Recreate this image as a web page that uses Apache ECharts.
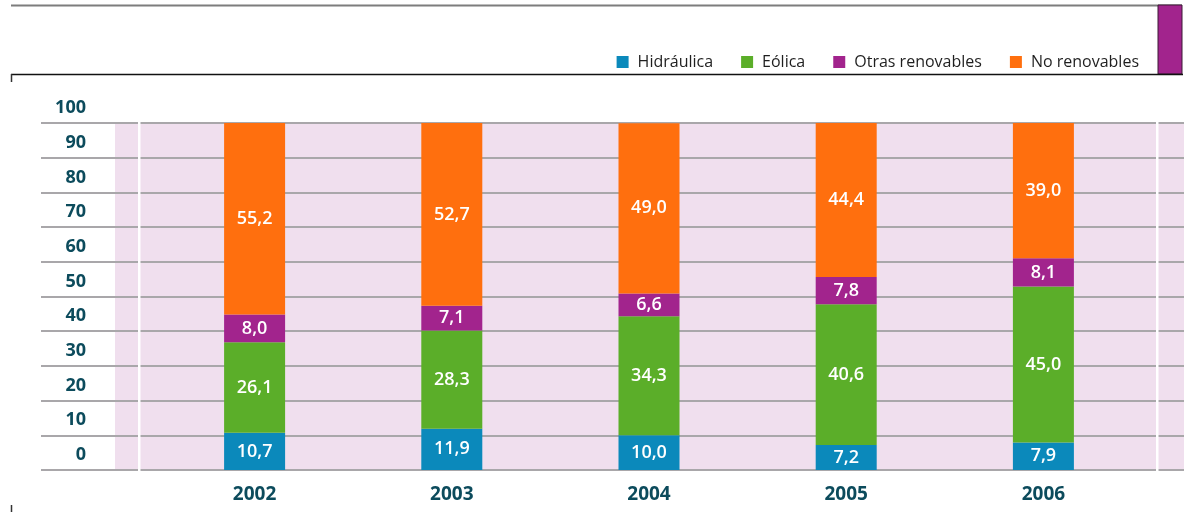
<!DOCTYPE html>
<html>
<head>
<meta charset="utf-8">
<script src="https://cdn.jsdelivr.net/npm/echarts@6/dist/echarts.min.js"></script>
<style>
  html, body { margin: 0; padding: 0; background: #ffffff; }
  #chart { width: 1184px; height: 512px; }
</style>
</head>
<body>
<div id="chart"></div>
<script>
const years = ["2002", "2003", "2004", "2005", "2006"];
const hidraulica = [10.7, 11.9, 10.0, 7.2, 7.9];
const eolica = [26.1, 28.3, 34.3, 40.6, 45.0];
const otras = [8.0, 7.1, 6.6, 7.8, 8.1];
const noRenovables = [55.2, 52.7, 49.0, 44.4, 39.0];

const hidraulicaColor = "#0b89bb";
const eolicaColor = "#5bae29";
const otrasColor = "#a2248d";
const noRenColor = "#ff6f0e";
const tealText = "#0c4b5c";
const fontFamily = "'Open Sans', 'Noto Sans', sans-serif";

const chart = echarts.init(document.getElementById("chart"), null, { renderer: "canvas" });

function barSeries(name, color, values) {
  return {
    name: name,
    type: "bar",
    stack: "total",
    xAxisIndex: 1,
    yAxisIndex: 1,
    barWidth: 61,
    itemStyle: { color: color },
    label: {
      show: true,
      position: "inside",
      color: "#ffffff",
      fontFamily: fontFamily,
      fontSize: 18,
      fontWeight: 600,
      formatter: (p) => p.value.toFixed(1).replace(".", ","),
    },
    data: values,
  };
}

chart.setOption({
  animation: false,
  textStyle: { fontFamily: fontFamily },
  legend: {
    top: 49,
    right: 40,
    icon: "rect",
    itemWidth: 12,
    itemHeight: 12,
    itemGap: 28,
    textStyle: { color: "#1f1f1f", fontSize: 16, fontFamily: fontFamily, padding: [0, 0, 0, 4] },
    data: ["Hidráulica", "Eólica", "Otras renovables", "No renovables"],
  },
  graphic: [
    { type: "rect", z: -10, shape: { x: 115, y: 123, width: 1069, height: 347 }, style: { fill: "#f0dfee" } },
    { type: "rect", z: 100, shape: { x: 138, y: 118, width: 2.5, height: 356 }, style: { fill: "#ffffff" } },
    { type: "rect", z: 100, shape: { x: 1156, y: 118, width: 2.5, height: 356 }, style: { fill: "#ffffff" } },
    { type: "line", shape: { x1: 11, y1: 5.5, x2: 1182, y2: 5.5 }, style: { stroke: "#7d7d7d", lineWidth: 2 } },
    { type: "rect", shape: { x: 1158, y: 5, width: 24, height: 69 }, style: { fill: otrasColor, stroke: "#3a1a34", lineWidth: 1 } },
    { type: "line", shape: { x1: 11, y1: 74.5, x2: 1183, y2: 74.5 }, style: { stroke: "#111111", lineWidth: 1.5 } },
    { type: "line", shape: { x1: 11.5, y1: 74, x2: 11.5, y2: 82 }, style: { stroke: "#333333", lineWidth: 1.5 } },
    { type: "line", shape: { x1: 11.5, y1: 505, x2: 11.5, y2: 512 }, style: { stroke: "#333333", lineWidth: 1.5 } },
  ],
  grid: [
    { left: 41, right: 0, top: 123, bottom: 42 },
    { left: 156, right: 42, top: 123, bottom: 42 },
  ],
  xAxis: [
    { gridIndex: 0, type: "category", data: years, show: false },
    {
      gridIndex: 1,
      type: "category",
      data: years,
      axisLine: { show: false },
      axisTick: { show: false },
      axisLabel: { color: tealText, fontSize: 19, fontWeight: "bold", margin: 15 },
    },
  ],
  yAxis: [
    {
      gridIndex: 0,
      type: "value",
      min: 0,
      max: 100,
      interval: 10,
      axisLine: { show: false },
      axisTick: { show: false },
      axisLabel: {
        inside: true,
        margin: 45,
        align: "right",
        verticalAlign: "bottom",
        lineHeight: 30,
        showMinLabel: true,
        showMaxLabel: true,
        hideOverlap: false,
        color: tealText,
        fontSize: 18,
        fontWeight: "bold",
      },
      splitLine: { lineStyle: { color: "#a9a7aa", width: 2 } },
    },
    { gridIndex: 1, type: "value", min: 0, max: 100, show: false },
  ],
  series: [
    barSeries("Hidráulica", hidraulicaColor, hidraulica),
    barSeries("Eólica", eolicaColor, eolica),
    barSeries("Otras renovables", otrasColor, otras),
    barSeries("No renovables", noRenColor, noRenovables),
  ],
});
</script>
</body>
</html>
